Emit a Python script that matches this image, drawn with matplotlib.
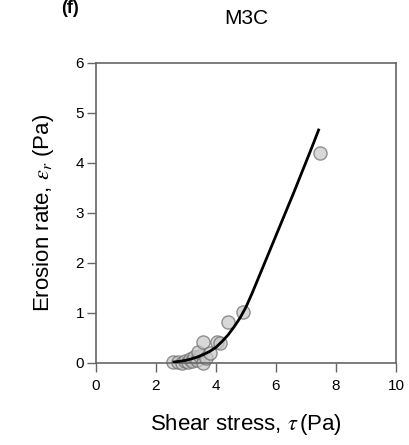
#!/usr/bin/env python3
"""Erosion rate vs shear stress, panel (f) M3C."""

import matplotlib
matplotlib.use("Agg")
import matplotlib.pyplot as plt

plt.rcParams['font.family'] = ['Liberation Sans', 'DejaVu Sans']
plt.rcParams['mathtext.fontset'] = 'stix'

# measured points (Pa, Pa)
tau_obs = [2.58, 2.72, 2.85, 2.95, 3.05, 3.12, 3.2, 3.28, 3.35, 3.45,
           3.41, 3.55, 3.58, 3.65, 3.8, 4.02, 4.13, 4.41, 4.91, 7.47]
eps_obs = [0.03, 0.02, 0.0, 0.05, 0.03, 0.09, 0.05, 0.12, 0.07, 0.15,
           0.23, 0.01, 0.43, 0.1, 0.2, 0.43, 0.41, 0.83, 1.03, 4.2]

# fitted curve
tau_fit = [2.6, 2.8, 3.0, 3.2, 3.4, 3.6, 3.8, 4.0, 4.2, 4.4, 4.6, 4.8,
           5.0, 5.2, 5.4, 5.6, 5.8, 6.0, 6.2, 6.4, 6.6, 6.8, 7.0, 7.2, 7.42]
eps_fit = [0.02, 0.035, 0.055, 0.085, 0.125, 0.175, 0.235, 0.315, 0.43,
           0.56, 0.72, 0.9, 1.12, 1.39, 1.68, 1.97, 2.26, 2.55, 2.84, 3.13,
           3.42, 3.72, 4.02, 4.32, 4.66]

xticks = [0, 2, 4, 6, 8, 10]
yticks = [0, 1, 2, 3, 4, 5, 6]

fig = plt.figure(figsize=(4.09, 4.45), dpi=100)
ax = fig.add_axes([96 / 409, 82 / 445, 300 / 409, 300 / 445])

ax.scatter(tau_obs, eps_obs, s=90, facecolor='#c8c8c8', edgecolor='#6a6a6a',
           linewidth=1.0, alpha=0.7, zorder=2, clip_on=False)
ax.plot(tau_fit, eps_fit, color='black', linewidth=2.0, zorder=3)

ax.set_xlim(0, 10)
ax.set_ylim(0, 6)
ax.set_xticks(xticks)
ax.set_yticks(yticks)
ax.tick_params(direction='out', length=6.5, width=1.0, color='#666666',
               labelsize=11, top=False, right=False)
ax.tick_params(axis='y', pad=2)
ax.tick_params(axis='x', pad=5)
for sp in ax.spines.values():
    sp.set_color('#666666')
    sp.set_linewidth(1.2)

ax.set_xlabel('Shear stress, $\\tau\\,$(Pa)', fontsize=16, labelpad=14)
ax.set_ylabel('Erosion rate, $\\varepsilon_r$ (Pa)', fontsize=16, labelpad=14)

fig.text(246 / 409, 1 - 18 / 445, 'M3C', ha='center', va='center', fontsize=15)
fig.text(70 / 409, 1.0, '(f)', ha='center', va='top', fontsize=13,
         fontweight='bold')

fig.savefig('out.png', dpi=100)
